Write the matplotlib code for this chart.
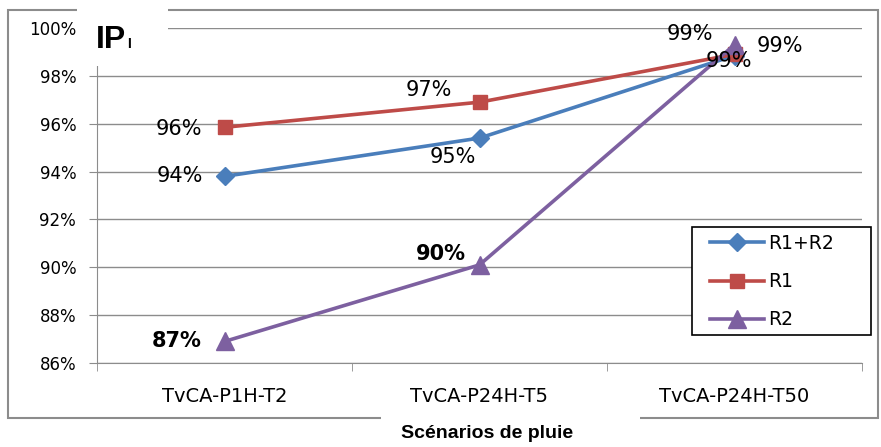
import matplotlib
matplotlib.use("Agg")
import matplotlib.pyplot as plt
from matplotlib.patches import Rectangle
from matplotlib.ticker import FixedLocator, FuncFormatter
from matplotlib import font_manager

# data
scenarios = ["TvCA-P1H-T2", "TvCA-P24H-T5", "TvCA-P24H-T50"]
r1r2 = [93.8, 95.4, 98.85]
r1 = [95.85, 96.9, 98.9]
r2 = [86.9, 90.1, 99.3]
r1r2_labels = ["94%", "95%", "99%"]
r1_labels = ["96%", "97%", "99%"]
r2_labels = ["87%", "90%", "99%"]
yticks = [86, 88, 90, 92, 94, 96, 98, 100]

names = {f.name for f in font_manager.fontManager.ttflist}
narrow = "Liberation Sans Narrow" if "Liberation Sans Narrow" in names else "Liberation Sans"

W, H = 881, 447
fig = plt.figure(figsize=(W / 100, H / 100), dpi=100)
ax = fig.add_axes([97 / W, 1 - 363 / H, (862 - 97) / W, (363 - 28) / H])

x = [0.5, 1.5, 2.5]
blue, red, purple = "#4A7EBB", "#BE4B48", "#7D60A0"
ax.plot(x, r1r2, color=blue, lw=2.6, marker="D", ms=9.5, label="R1+R2", zorder=3)
ax.plot(x, r1, color=red, lw=2.6, marker="s", ms=10, label="R1", zorder=3)
ax.plot(x, r2, color=purple, lw=2.6, marker="^", ms=12.5, label="R2", zorder=4)

ax.set_xlim(0, 3)
ax.set_ylim(86, 100)
ax.set_yticks(yticks)
ax.yaxis.set_major_formatter(FuncFormatter(lambda v, p: "%d%%" % v))
ax.grid(axis="y", color="#8c8c8c", lw=1)
ax.set_axisbelow(True)
ax.set_xticks(x)
ax.set_xticklabels(scenarios)
ax.xaxis.set_minor_locator(FixedLocator([0, 1, 2, 3]))
ax.tick_params(axis="x", which="major", length=0, pad=17, labelsize=14)
ax.tick_params(axis="x", which="minor", length=6, color="#8c8c8c")
ax.tick_params(axis="y", length=6, color="#8c8c8c", labelsize=12, pad=9)
for s in ["top", "right"]:
    ax.spines[s].set_visible(False)
for s in ["left", "bottom"]:
    ax.spines[s].set_color("#8c8c8c")

# data labels
def lab(xs, vals, texts, offs, bold=False):
    for xi, v, t, o in zip(xs, vals, texts, offs):
        ax.annotate(t, (xi, v), xytext=o, textcoords="offset pixels",
                    ha="center", va="center", fontsize=15,
                    fontweight="bold" if bold else "normal", zorder=5)

lab(x, r1r2, r1r2_labels, [(-45, 0), (-27, -19), (-6, -5)])
lab(x, r1, r1_labels, [(-46, -2), (-51, 12), (45, 8)])
lab(x[:2], r2[:2], r2_labels[:2], [(-48, 0), (-39, 11)], bold=True)
lab(x[2:], r2[2:], r2_labels[2:], [(-45, 11)])

# legend: frame drawn by hand
box = Rectangle((692 / W, 1 - 335 / H), 179 / W, 108 / H,
                transform=fig.transFigure, facecolor="white",
                edgecolor="black", lw=1.2, zorder=4.5, clip_on=False)
ax.add_patch(box)
leg = ax.legend(loc="upper left", bbox_to_anchor=(710 / W, 1 - 234 / H),
                bbox_transform=fig.transFigure, frameon=False,
                fontsize=13.5, handlelength=2.9, borderaxespad=0,
                labelspacing=1.02, borderpad=0, handletextpad=0.2)
leg.set_zorder(6)

# outer frame
fig.patches.append(Rectangle((8 / W, 1 - 418 / H), 870 / W, 408 / H,
                             transform=fig.transFigure, fill=False,
                             edgecolor="#8c8c8c", lw=1.5, zorder=1))
# title with white box
fig.patches.append(Rectangle((77 / W, 1 - 66 / H), 91 / W, 66 / H,
                             transform=fig.transFigure, facecolor="white",
                             edgecolor="none", zorder=2))
fig.text(96 / W, 1 - 48 / H, "IP", fontsize=23, fontweight="bold",
         family="Liberation Sans", zorder=3)
fig.text(127 / W, 1 - 48 / H, "I", fontsize=10, fontweight="bold",
         family="Liberation Sans", zorder=3)
# x axis title with white box
fig.patches.append(Rectangle((381 / W, 0), 259 / W, (447 - 410) / H,
                             transform=fig.transFigure, facecolor="white",
                             edgecolor="none", zorder=2))
fig.text(487 / W, 1 - 434 / H, "Scénarios de pluie", fontsize=14,
         fontweight="bold", family=narrow, ha="center", va="center", zorder=3)

fig.savefig("out.png", dpi=100)
